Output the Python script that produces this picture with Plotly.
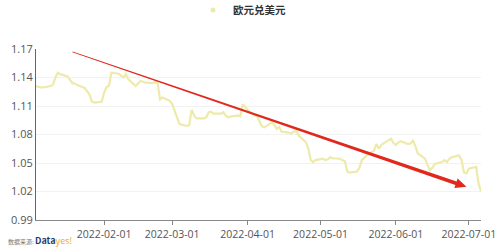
import pandas as pd
import plotly.graph_objects as go

series_name = "欧元兑美元"

jan_vals = [1.131, 1.130, 1.1295, 1.1295, 1.131, 1.1325, 1.140, 1.145, 1.1435, 1.141,
            1.137, 1.134, 1.1335, 1.132, 1.129, 1.126, 1.122, 1.1145, 1.1135, 1.1145]
feb_vals = [1.124, 1.130, 1.131, 1.145, 1.144, 1.142, 1.140, 1.1435, 1.138, 1.131,
            1.134, 1.1365, 1.1355, 1.1345, 1.134, 1.135, 1.1345, 1.117, 1.119, 1.1155]
mar_vals = [1.112, 1.104, 1.098, 1.091, 1.089, 1.090, 1.106, 1.100, 1.097, 1.097,
            1.098, 1.1035, 1.104, 1.102, 1.102, 1.1035, 1.100, 1.098, 1.099, 1.100,
            1.099, 1.112, 1.109]
apr_vals = [1.106, 1.100, 1.099, 1.093, 1.0885, 1.0875, 1.093, 1.090, 1.086, 1.088,
            1.083, 1.082, 1.081, 1.083, 1.084, 1.079, 1.072, 1.065, 1.053, 1.051, 1.053]
may_vals = [1.0545, 1.053, 1.054, 1.056, 1.055, 1.0545, 1.053, 1.052, 1.041, 1.040,
            1.041, 1.045, 1.053, 1.055, 1.058, 1.063, 1.070, 1.065, 1.069, 1.071,
            1.0755, 1.071]
jun_vals = [1.069, 1.0715, 1.073, 1.070, 1.0705, 1.0735, 1.068, 1.060, 1.0545, 1.048,
            1.0425, 1.045, 1.049, 1.051, 1.053, 1.051, 1.0545, 1.056, 1.058, 1.053,
            1.040, 1.039]
jul_vals = [1.044, 1.046, 1.0285, 1.0197]

values = jan_vals + feb_vals + mar_vals + apr_vals + may_vals + jun_vals + jul_vals
dates = list(pd.bdate_range("2022-01-04", "2022-07-06"))

x_ticks = ["2022-02-01", "2022-03-01", "2022-04-01", "2022-05-01", "2022-06-01", "2022-07-01"]
y_ticks = [0.99, 1.02, 1.05, 1.08, 1.11, 1.14, 1.17]
y_ticklabels = ["0.99", "1.02", "1.05", "1.08", "1.11", "1.14", "1.17"]

# trend arrow endpoints (date, value)
arrow_start = ("2022-01-19", 1.167)
arrow_end = ("2022-06-30", 1.025)

W_FIG, H_FIG = 499, 248
M = dict(l=36, r=18, t=49, b=28, autoexpand=False)
PW = W_FIG - M["l"] - M["r"]
PH = H_FIG - M["t"] - M["b"]
xmin, xmax = pd.Timestamp(dates[0]), pd.Timestamp(dates[-1])
ymin, ymax = y_ticks[0], y_ticks[-1]


def to_px(d, v):
    fx = (pd.Timestamp(d) - xmin) / (xmax - xmin)
    fy = (v - ymin) / (ymax - ymin)
    return fx * PW, fy * PH


def arrow_path(p0, p1, w0=0.5, w1=1.9, head_len=11, head_half=5):
    (x0, y0), (x1, y1) = p0, p1
    dx, dy = x1 - x0, y1 - y0
    L = (dx * dx + dy * dy) ** 0.5
    ux, uy = dx / L, dy / L
    nx, ny = -uy, ux
    bx, by = x1 - head_len * ux, y1 - head_len * uy
    pts = [
        (x0 + w0 * nx, y0 + w0 * ny),
        (bx + w1 * nx, by + w1 * ny),
        (bx + head_half * nx, by + head_half * ny),
        (x1, y1),
        (bx - head_half * nx, by - head_half * ny),
        (bx - w1 * nx, by - w1 * ny),
        (x0 - w0 * nx, y0 - w0 * ny),
    ]
    s = "M " + " L ".join(f"{px / PW:.5f},{py / PH:.5f}" for px, py in pts) + " Z"
    return s


fig = go.Figure()
fig.add_trace(go.Scatter(
    x=dates, y=values, mode="lines", name=series_name, showlegend=False,
    line=dict(color="#EDEAAA", width=2.2), hoverinfo="x+y",
))
fig.add_trace(go.Scatter(
    x=[None], y=[None], mode="markers", name=series_name, showlegend=True,
    marker=dict(color="#EDEAAA", size=5),
))

fig.add_shape(
    type="path", xref="paper", yref="paper",
    path=arrow_path(to_px(*arrow_start), to_px(*arrow_end)),
    fillcolor="#E0281C", line=dict(width=0),
)

fig.add_annotation(
    xref="paper", yref="paper", x=-0.067, y=-0.12, xanchor="left", yanchor="middle",
    text="<span style='font-size:6px;color:#777'>数据来源: </span>"
         "<b><span style='color:#1E3C78'>Data</span></b>"
         "<span style='color:#F2A93B'>yes!</span>",
    showarrow=False, font=dict(size=9, family="Noto Sans CJK SC"),
)

fig.update_layout(
    width=W_FIG, height=H_FIG, margin=M,
    paper_bgcolor="white", plot_bgcolor="white",
    font=dict(family="Open Sans, Noto Sans CJK SC", color="#555"),
    legend=dict(
        orientation="h", x=(193 - M["l"]) / PW, y=(H_FIG - M["b"] - 10) / PH,
        xanchor="left", yanchor="middle",
        font=dict(size=10.5, color="#333", family="Noto Sans CJK SC", weight="bold"),
        bgcolor="rgba(0,0,0,0)",
    ),
    xaxis=dict(
        type="date", range=[xmin, xmax], tickvals=x_ticks, ticktext=x_ticks,
        showgrid=False, showline=True, linecolor="#888", linewidth=1,
        ticks="outside", ticklen=4, tickcolor="#888",
        tickfont=dict(size=10.5, color="#555"), zeroline=False,
    ),
    yaxis=dict(
        range=[ymin, ymax], tickvals=y_ticks, ticktext=y_ticklabels,
        showgrid=True, gridcolor="#F2F2F2", gridwidth=1,
        showline=True, linecolor="#666", linewidth=1, ticks="",
        tickfont=dict(size=11, color="#555"), zeroline=False,
    ),
)

fig.write_html("out.html")
